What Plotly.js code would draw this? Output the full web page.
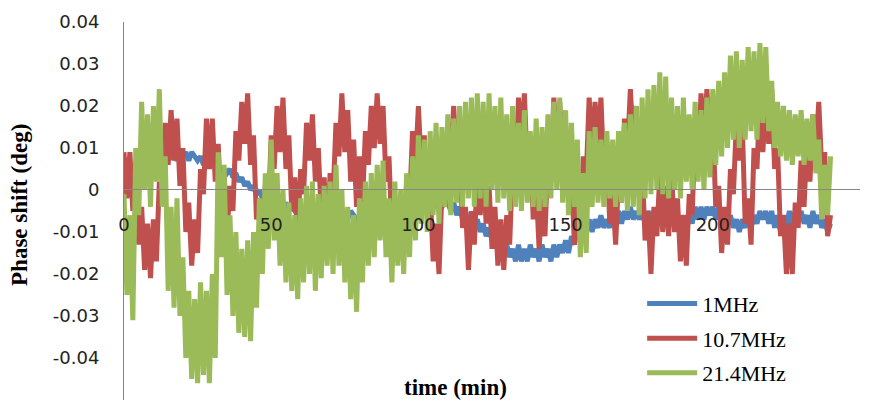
<!DOCTYPE html>
<html><head><meta charset="utf-8">
<script src="https://cdn.plot.ly/plotly-3.0.1.min.js"></script>
<style>html,body{margin:0;padding:0;background:#fff}#chart{width:876px;height:409px}</style>
</head><body><div id="chart"></div>
<script>
// series names
const seriesNames = ['1MHz', '10.7MHz', '21.4MHz'];
// sampling: one reading per minute starting at t = 0 min
const timeStart = 0;
const timeStep = 1;

// phase shift (deg), 1 MHz
const phase1MHz = [
0.003,0.005,0.004,0.006,0.005,0.007,0.006,0.008,0.007,0.008,
0.007,0.009,0.008,0.009,0.007,0.009,0.008,0.009,0.007,0.009,
0.008,0.009,0.007,0.009,0.008,0.007,0.008,0.006,0.007,0.006,
0.007,0.005,0.006,0.004,0.005,0.004,0.005,0.003,0.004,0.002,
0.003,0.001,0.002,0.000,0.001,-0.001,0.000,-0.002,-0.001,-0.002,
-0.003,-0.002,-0.004,-0.003,-0.004,-0.003,-0.005,-0.004,-0.005,-0.004,
-0.006,-0.004,-0.005,-0.006,-0.004,-0.005,-0.006,-0.005,-0.006,-0.005,
-0.007,-0.005,-0.006,-0.005,-0.007,-0.006,-0.007,-0.005,-0.006,-0.007,
-0.006,-0.007,-0.005,-0.006,-0.005,-0.007,-0.006,-0.005,-0.006,-0.005,
-0.006,-0.004,-0.005,-0.006,-0.004,-0.005,-0.004,-0.005,-0.003,-0.004,
-0.005,-0.003,-0.004,-0.005,-0.003,-0.004,-0.003,-0.005,-0.004,-0.003,
-0.003,-0.005,-0.003,-0.006,-0.004,-0.007,-0.005,-0.008,-0.006,-0.009,
-0.007,-0.010,-0.008,-0.011,-0.009,-0.012,-0.011,-0.014,-0.012,-0.015,
-0.013,-0.016,-0.014,-0.017,-0.013,-0.017,-0.014,-0.017,-0.013,-0.016,
-0.014,-0.017,-0.013,-0.016,-0.014,-0.017,-0.013,-0.016,-0.013,-0.015,
-0.012,-0.015,-0.011,-0.013,-0.009,-0.011,-0.008,-0.010,-0.007,-0.010,
-0.007,-0.009,-0.006,-0.009,-0.007,-0.009,-0.006,-0.008,-0.005,-0.008,
-0.005,-0.007,-0.004,-0.007,-0.005,-0.007,-0.005,-0.008,-0.005,-0.007,
-0.005,-0.008,-0.006,-0.009,-0.005,-0.008,-0.006,-0.009,-0.006,-0.009,
-0.006,-0.009,-0.005,-0.008,-0.004,-0.007,-0.004,-0.007,-0.004,-0.006,
-0.004,-0.007,-0.004,-0.007,-0.005,-0.008,-0.006,-0.009,-0.007,-0.010,
-0.007,-0.009,-0.006,-0.009,-0.006,-0.008,-0.005,-0.007,-0.005,-0.008,
-0.005,-0.009,-0.006,-0.010,-0.006,-0.009,-0.005,-0.008,-0.005,-0.007,
-0.005,-0.008,-0.006,-0.009,-0.005,-0.008,-0.006,-0.009,-0.007,-0.010,
-0.008];

// phase shift (deg), 10.7 MHz
const phase10_7MHz = [
0.009,-0.002,0.009,-0.005,0.003,-0.013,-0.004,-0.019,-0.008,-0.021,
-0.007,-0.017,0.002,-0.003,0.016,0.006,0.019,0.007,0.017,0.001,
0.010,-0.010,-0.003,-0.018,-0.007,-0.015,0.005,-0.001,0.017,0.005,
0.017,0.002,0.011,-0.005,0.004,-0.010,0.001,-0.005,0.014,0.007,
0.021,0.011,0.023,0.006,0.013,-0.007,-0.002,-0.014,0.001,-0.006,
0.013,0.005,0.020,0.009,0.022,0.005,0.013,-0.005,0.003,-0.010,
0.005,-0.001,0.016,0.007,0.018,0.002,0.010,-0.006,0.003,-0.013,
0.004,-0.002,0.016,0.008,0.023,0.009,0.019,0.002,0.012,-0.004,
0.008,-0.003,0.014,0.006,0.020,0.010,0.023,0.011,0.020,0.002,
0.008,-0.010,-0.003,-0.017,-0.005,-0.016,0.002,-0.004,0.014,0.006,
0.020,0.005,0.013,-0.005,0.000,-0.017,-0.008,-0.020,0.000,-0.004,
0.016,0.008,0.020,0.004,0.011,-0.009,-0.004,-0.019,-0.005,-0.013,
0.004,-0.006,0.006,-0.008,0.001,-0.014,-0.004,-0.018,-0.007,-0.019,
-0.006,-0.013,0.006,0.002,0.022,0.011,0.023,0.005,0.012,-0.007,
0.001,-0.014,-0.002,-0.011,0.009,0.004,0.022,0.010,0.021,0.007,
0.016,-0.003,0.004,-0.013,-0.001,-0.010,0.008,0.003,0.022,0.009,
0.021,0.010,0.022,0.004,0.010,-0.008,-0.001,-0.013,0.003,-0.003,
0.017,0.009,0.024,0.011,0.020,0.001,0.006,-0.012,-0.005,-0.020,
-0.004,-0.011,0.004,-0.010,0.001,-0.011,0.004,-0.010,-0.002,-0.017,
-0.006,-0.018,-0.001,-0.006,0.015,0.007,0.023,0.012,0.024,0.009,
0.016,-0.004,0.001,-0.015,-0.004,-0.013,0.005,-0.001,0.016,0.007,
0.016,-0.008,-0.002,-0.013,0.010,0.005,0.022,0.009,0.021,0.011,
0.024,0.005,0.010,-0.011,-0.006,-0.020,-0.008,-0.020,-0.003,-0.009,
0.007,-0.004,0.012,0.002,0.018,0.009,0.021,0.005,0.009,-0.011,
-0.006];

// phase shift (deg), 21.4 MHz
const phase21_4MHz = [
-0.001,-0.025,-0.006,-0.031,0.010,-0.006,0.021,0.000,0.018,-0.004,
0.020,0.002,0.024,-0.004,0.008,-0.024,-0.004,-0.028,-0.002,-0.030,
-0.016,-0.040,-0.024,-0.045,-0.026,-0.046,-0.022,-0.044,-0.024,-0.046,
-0.020,-0.040,0.009,-0.016,0.006,-0.025,-0.006,-0.030,-0.010,-0.034,
-0.014,-0.035,-0.012,-0.036,-0.010,-0.028,-0.002,-0.020,0.004,-0.014,
0.012,-0.012,0.004,-0.018,0.000,-0.022,-0.003,-0.024,-0.006,-0.026,
-0.002,-0.022,0.001,-0.020,0.002,-0.024,-0.001,-0.021,0.001,-0.018,
0.002,-0.020,0.006,-0.018,0.000,-0.022,-0.004,-0.026,-0.006,-0.029,
-0.002,-0.022,0.002,-0.018,0.004,-0.016,0.006,-0.012,0.007,-0.016,
-0.002,-0.022,0.002,-0.018,0.000,-0.020,0.004,-0.016,0.008,-0.012,
0.013,-0.008,0.012,-0.010,0.014,-0.006,0.016,-0.008,0.015,-0.004,
0.018,-0.006,0.017,-0.003,0.020,-0.004,0.021,-0.002,0.022,-0.004,
0.023,-0.002,0.021,-0.004,0.023,0.000,0.020,-0.003,0.022,-0.002,
0.018,-0.005,0.020,-0.004,0.016,-0.005,0.019,-0.003,0.014,-0.004,
0.017,-0.005,0.015,-0.004,0.018,-0.002,0.021,0.000,0.022,-0.003,
0.019,-0.006,0.016,-0.004,0.012,-0.016,0.004,-0.015,0.014,-0.004,
0.015,-0.003,0.012,-0.004,0.014,-0.002,0.012,-0.004,0.014,-0.003,
0.016,-0.005,0.018,-0.004,0.020,-0.006,0.022,-0.002,0.024,-0.001,
0.025,0.000,0.028,-0.001,0.027,-0.002,0.022,0.000,0.020,-0.002,
0.022,0.002,0.018,0.000,0.021,0.002,0.019,0.000,0.022,0.003,
0.024,0.006,0.026,0.008,0.028,0.010,0.032,0.012,0.033,0.010,
0.031,0.012,0.034,0.014,0.033,0.012,0.035,0.016,0.034,0.014,
0.026,0.010,0.021,0.008,0.020,0.007,0.019,0.006,0.018,0.008,
0.019,0.006,0.017,0.007,0.018,0.004,0.012,-0.007,0.006,-0.006,
0.008];

// axis ticks
const xTickVals = [0, 50, 100, 150, 200, 250];
const xTickText = ['0', '50', '100', '150', '200', '250'];
const yTickVals = [0.04, 0.03, 0.02, 0.01, 0, -0.01, -0.02, -0.03, -0.04, -0.05];
const yTickText = ['0.04', '0.03', '0.02', '0.01', '0', '-0.01', '-0.02', '-0.03', '-0.04', '-0.05'];

const colors = ['#4F81BD', '#C0504D', '#9BBB59'];
const seriesValues = [phase1MHz, phase10_7MHz, phase21_4MHz];

const traces = seriesValues.map((vals, i) => ({
  type: 'scatter', mode: 'lines',
  name: seriesNames[i],
  legendgroup: 'g' + i,
  x0: timeStart, dx: timeStep,
  y: vals,
  line: {color: colors[i], width: 5},
  hoverinfo: 'skip'
}));

const tickFont = {family: 'DejaVu Sans, Verdana, sans-serif', size: 18, color: '#222'};
const serif = 'Liberation Serif, Times New Roman, serif';

const layout = {
  width: 876, height: 409,
  margin: {l: 124, r: 16, t: 22, b: 9, pad: 0, autoexpand: false},
  paper_bgcolor: '#fff', plot_bgcolor: '#fff',
  showlegend: true,
  xaxis: {
    range: [0, 250], tickmode: 'array', tickvals: xTickVals, ticktext: xTickText,
    anchor: 'free', position: 0.558,
    showline: true, linecolor: '#868686', linewidth: 1,
    showgrid: false, zeroline: false, ticks: '', ticklabelstandoff: 19,
    tickfont: tickFont, fixedrange: true, automargin: false
  },
  yaxis: {
    range: [-0.05, 0.04], tickmode: 'array', tickvals: yTickVals, ticktext: yTickText,
    showline: true, linecolor: '#868686', linewidth: 1,
    showgrid: false, zeroline: false, ticks: '', ticklabelstandoff: 20,
    tickfont: tickFont, fixedrange: true, automargin: false
  },
  legend: {
    x: 0.704, y: 0.31, xanchor: 'left', yanchor: 'top',
    font: {family: serif, size: 22, color: '#000'},
    bgcolor: 'rgba(0,0,0,0)', tracegroupgap: 3, itemwidth: 50
  },
  annotations: [
    {text: '<b>Phase shift (deg)</b>', xref: 'paper', yref: 'paper', x: -0.1413, y: 0.516,
     xanchor: 'center', yanchor: 'middle', textangle: -90, showarrow: false,
     font: {family: serif, size: 23, color: '#000'}},
    {text: '<b>time (min)</b>', xref: 'paper', yref: 'paper', x: 0.45, y: 0.034,
     xanchor: 'center', yanchor: 'middle', showarrow: false,
     font: {family: serif, size: 23, color: '#000'}}
  ]
};

Plotly.newPlot('chart', traces, layout, {staticPlot: true, displayModeBar: false});
</script>
</body></html>
